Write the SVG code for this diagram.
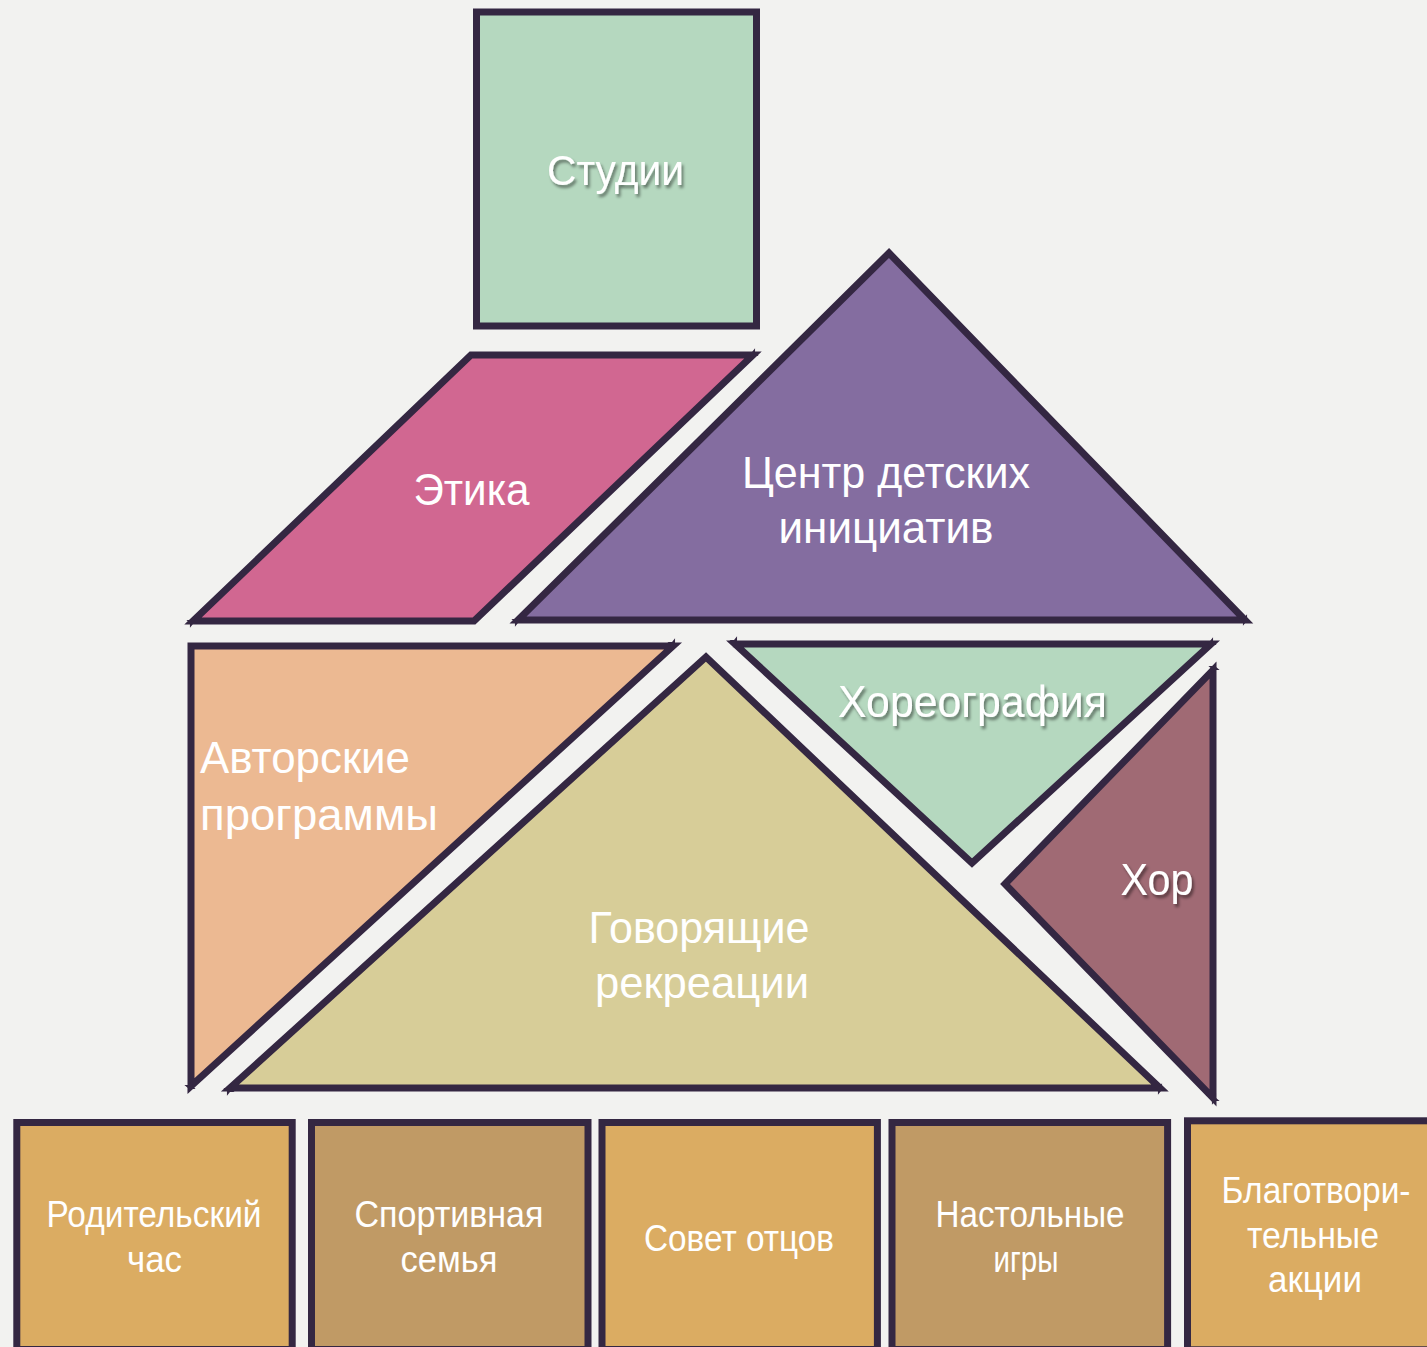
<svg xmlns="http://www.w3.org/2000/svg" width="1427" height="1347" viewBox="0 0 1427 1347">
<defs>
<style>
.sh{stroke:#342742;stroke-width:7;stroke-linejoin:miter;stroke-miterlimit:10}
.t{font-family:"Liberation Sans",Arial,sans-serif;fill:#ffffff;text-anchor:middle}
.tb{font-size:36px}
.tm{font-size:44px}
.star{fill:#342742}
</style>
<filter id="ds" x="-20%" y="-40%" width="140%" height="180%">
<feDropShadow dx="2" dy="3" stdDeviation="1.6" flood-color="#000000" flood-opacity="0.45"/>
</filter>
<path id="st" d="M0,-6 L1.6,-1.6 L6,0 L1.6,1.6 L0,6 L-1.6,1.6 L-6,0 L-1.6,-1.6 Z"/>
</defs>
<rect x="0" y="0" width="1427" height="1347" fill="#F2F2F0"/>

<g id="connectors"></g>

<g id="studii">
<rect class="sh" x="476.5" y="12" width="280" height="314" fill="#B5D8BF"/>
<text class="t" x="615.5" y="185" font-size="42" textLength="137" lengthAdjust="spacingAndGlyphs" filter="url(#ds)">Студии</text>
</g>

<g id="etika">
<path class="sh" d="M471,355 L753,355 L474,621 L193,621 Z" fill="#D16791"/>
<use href="#st" class="star" x="753" y="354" transform="rotate(20 753 354)"/>
<use href="#st" class="star" x="192" y="622" transform="rotate(20 192 622)"/>
<text class="t tm" x="471.5" y="505" textLength="116" lengthAdjust="spacingAndGlyphs">Этика</text>
</g>

<g id="centr">
<path class="sh" d="M889,253 L1245,620 L518,620 Z" fill="#846DA0"/>
<use href="#st" class="star" x="517" y="621" transform="rotate(20 517 621)"/>
<use href="#st" class="star" x="1245" y="620" transform="rotate(20 1245 620)"/>
<text class="t tm" x="886" y="488" textLength="288" lengthAdjust="spacingAndGlyphs">Центр детских</text>
<text class="t tm" x="886" y="543" textLength="215" lengthAdjust="spacingAndGlyphs">инициатив</text>
</g>

<g id="avtorskie">
<path class="sh" d="M191,646 L673,646 L191,1086 Z" fill="#ECB992"/>
<use href="#st" class="star" x="673" y="644" transform="rotate(20 673 644)"/>
<use href="#st" class="star" x="190" y="1087" transform="rotate(20 190 1087)"/>
<text class="t tm" x="200" y="773" style="text-anchor:start" textLength="210" lengthAdjust="spacingAndGlyphs">Авторские</text>
<text class="t tm" x="200" y="830" style="text-anchor:start" textLength="238" lengthAdjust="spacingAndGlyphs">программы</text>
</g>

<g id="govoryashchie">
<path class="sh" d="M706,657 L1160,1088 L230,1088 Z" fill="#D7CD98"/>
<use href="#st" class="star" x="229" y="1090" transform="rotate(20 229 1090)"/>
<use href="#st" class="star" x="1160" y="1089" transform="rotate(20 1160 1089)"/>
<text class="t tm" x="699" y="943" textLength="221" lengthAdjust="spacingAndGlyphs">Говорящие</text>
<text class="t tm" x="702" y="998" textLength="214" lengthAdjust="spacingAndGlyphs">рекреации</text>
</g>

<g id="horeografiya">
<path class="sh" d="M735,644 L1211,644 L972,863 Z" fill="#B5D8BF"/>
<use href="#st" class="star" x="735" y="642" transform="rotate(20 735 642)"/>
<use href="#st" class="star" x="1211" y="643" transform="rotate(20 1211 643)"/>
<text class="t tm" x="972.5" y="717" textLength="269" lengthAdjust="spacingAndGlyphs" filter="url(#ds)">Хореография</text>
</g>

<g id="hor">
<path class="sh" d="M1213,670 L1213,1098 L1005,884 Z" fill="#A06A74"/>
<use href="#st" class="star" x="1214" y="668" transform="rotate(20 1214 668)"/>
<use href="#st" class="star" x="1214" y="1099" transform="rotate(20 1214 1099)"/>
<text class="t tm" x="1157" y="895" textLength="73" lengthAdjust="spacingAndGlyphs" filter="url(#ds)">Хор</text>
</g>

<g id="roditelskiy">
<rect class="sh" x="16.8" y="1122.5" width="275.4" height="227" fill="#DBAC62"/>
<text class="t tb" x="154" y="1227" textLength="215" lengthAdjust="spacingAndGlyphs">Родительский</text>
<text class="t tb" x="154.5" y="1272" textLength="55" lengthAdjust="spacingAndGlyphs">час</text>
</g>

<g id="sportivnaya">
<rect class="sh" x="311.5" y="1122.5" width="276.5" height="227" fill="#C09A65"/>
<text class="t tb" x="449" y="1227" textLength="189" lengthAdjust="spacingAndGlyphs">Спортивная</text>
<text class="t tb" x="449" y="1272" textLength="97" lengthAdjust="spacingAndGlyphs">семья</text>
</g>

<g id="sovet">
<rect class="sh" x="602" y="1122.5" width="275.4" height="227" fill="#DBAC62"/>
<text class="t tb" x="739" y="1251" textLength="190" lengthAdjust="spacingAndGlyphs">Совет отцов</text>
</g>

<g id="nastolnye">
<rect class="sh" x="892" y="1122.5" width="275.6" height="227" fill="#C09A65"/>
<text class="t tb" x="1030" y="1227" textLength="189" lengthAdjust="spacingAndGlyphs">Настольные</text>
<text class="t tb" x="1026" y="1272" textLength="65" lengthAdjust="spacingAndGlyphs">игры</text>
</g>

<g id="blagotvoritelnye">
<rect class="sh" x="1187.5" y="1120.8" width="280" height="229" fill="#DBAC62"/>
<text class="t tb" x="1316" y="1203" textLength="189" lengthAdjust="spacingAndGlyphs">Благотвори-</text>
<text class="t tb" x="1313" y="1248" textLength="132" lengthAdjust="spacingAndGlyphs">тельные</text>
<text class="t tb" x="1315" y="1292" textLength="94" lengthAdjust="spacingAndGlyphs">акции</text>
</g>
</svg>
